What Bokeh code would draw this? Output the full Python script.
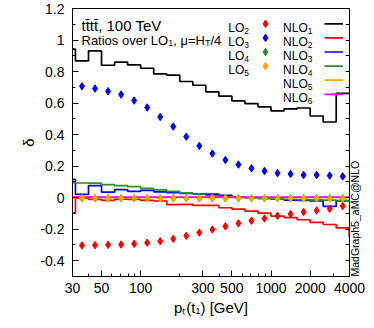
import math
from bokeh.plotting import figure
from bokeh.models import Range1d, FixedTicker, LinearAxis, Label
from bokeh.embed import file_html
from bokeh.resources import INLINE

# ---------------- data ----------------
# histogram bin edges in pT(t1) [GeV] (log-spaced, 0.1 decade; first/last bins partially shown)
bin_edges = [30, 31.6, 39.8, 50.1, 63.1, 79.4, 100, 125.9, 158.5, 199.5, 251.2, 316.2,
             398.1, 501.2, 631.0, 794.3, 1000, 1258.9, 1584.9, 1995.3, 2511.9, 3162.3,
             3981.1, 4000]

# NLO ratios (one value per bin, 23 bins)
nlo1 = [0.942, 0.868, 0.931, 0.840, 0.860, 0.842, 0.821, 0.785, 0.777, 0.737, 0.713,
        0.671, 0.644, 0.614, 0.597, 0.576, 0.550, 0.563, 0.569, 0.518, 0.480, 0.661, 0.661]
nlo2 = [-0.098, -0.003, -0.011, -0.017, -0.009, -0.011, -0.017, -0.021, -0.044, -0.042,
        -0.049, -0.049, -0.064, -0.072, -0.085, -0.098, -0.117, -0.127, -0.140, -0.157,
        -0.170, -0.191, -0.250]
nlo3 = [0.116, 0.021, 0.076, 0.035, 0.051, 0.040, 0.046, 0.037, 0.032, 0.027, 0.025,
        0.023, 0.015, 0.006, 0.001, -0.004, -0.010, -0.015, -0.017, -0.021, -0.055,
        -0.021, -0.021]
nlo4 = [0.095, 0.093, 0.092, 0.083, 0.076, 0.070, 0.059, 0.050, 0.040, 0.031, 0.022,
        0.012, 0.006, 0.002, -0.002, -0.005, -0.008, -0.010, -0.012, -0.014, -0.016,
        -0.017, -0.017]
nlo5 = [0.001] * 23
nlo6 = [0.004] * 23

# LO ratios (one value per full bin, 21 bins)
lo2 = [-0.303, -0.301, -0.299, -0.297, -0.293, -0.286, -0.276, -0.261, -0.242, -0.222,
       -0.202, -0.182, -0.163, -0.146, -0.132, -0.115, -0.104, -0.091, -0.081, -0.070,
       -0.053]
lo3 = [0.707, 0.692, 0.675, 0.654, 0.616, 0.572, 0.512, 0.451, 0.387, 0.328, 0.280,
       0.239, 0.210, 0.186, 0.169, 0.156, 0.150, 0.144, 0.144, 0.140, 0.135]
lo4 = [-0.004] * 21
lo5 = [-0.004] * 21

x_ticks = [30, 50, 100, 300, 500, 1000, 2000, 4000]
x_tick_labels = ["30", "50", "100", "300", "500", "1000", "2000", "4000"]
x_minor = [40, 60, 70, 80, 90, 200, 400, 600, 700, 800, 900, 3000]
y_ticks = [-0.4, -0.2, 0, 0.2, 0.4, 0.6, 0.8, 1, 1.2]
y_tick_labels = ["-0.4", "-0.2", "0", "0.2", "0.4", "0.6", "0.8", "1", "1.2"]
y_minor = [-0.5, -0.3, -0.1, 0.1, 0.3, 0.5, 0.7, 0.9, 1.1]

RED, BLUE, GREEN, ORANGE, MAGENTA = "#ff0000", "#0000ff", "#2e8b2e", "#ffa500", "#ff00ff"
lo_legend = [("LO", "2", RED), ("LO", "3", BLUE), ("LO", "4", GREEN), ("LO", "5", ORANGE)]
nlo_legend = [("NLO", "1", "black"), ("NLO", "2", RED), ("NLO", "3", BLUE),
              ("NLO", "4", GREEN), ("NLO", "5", ORANGE), ("NLO", "6", MAGENTA)]

FONT = "Liberation Sans"

# ---------------- figure ----------------
XMIN, XMAX, YMIN, YMAX = 30, 4000, -0.5, 1.2
FL, FR, FT, FB = 72, 349, 8, 276      # frame edges on the page
WID, HEI = 374, 328
p = figure(width=WID, height=HEI, x_axis_type="log",
           x_range=Range1d(XMIN, XMAX), y_range=Range1d(YMIN, YMAX),
           output_backend="svg", toolbar_location=None,
           min_border_left=FL, min_border_right=WID - FR, min_border_top=FT,
           min_border_bottom=HEI - FB)
p.grid.visible = False
p.outline_line_color = "black"
p.outline_line_width = 1
p.background_fill_color = "white"
p.border_fill_color = "white"


def X(px):
    return XMIN * (XMAX / XMIN) ** ((px - FL) / (FR - FL))


def Y(py):
    return YMIN + (FB - py) / (FB - FT) * (YMAX - YMIN)


# axes
p.xaxis.ticker = FixedTicker(ticks=x_ticks, minor_ticks=x_minor)
p.xaxis.major_label_overrides = {t: l for t, l in zip(x_ticks, x_tick_labels)}
p.yaxis.ticker = FixedTicker(ticks=y_ticks, minor_ticks=y_minor)
p.yaxis.major_label_overrides = {t: l for t, l in zip(y_ticks, y_tick_labels)}

# mirrored right axis: tick marks only (all as minor ticks, so no labels are drawn)
ra = LinearAxis(ticker=FixedTicker(ticks=[], minor_ticks=sorted(y_ticks + y_minor)))
p.add_layout(ra, "right")

for ax in [p.xaxis[0], p.yaxis[0], ra]:
    ax.axis_line_color = "black"
    ax.major_tick_line_color = "black"
    ax.minor_tick_line_color = "black"
    ax.major_tick_in = 6
    ax.major_tick_out = 0
    ax.minor_tick_in = 3
    ax.minor_tick_out = 0
    ax.major_label_text_font = FONT
    ax.major_label_text_color = "black"
    ax.axis_label_text_font = FONT
    ax.axis_label_text_font_style = "normal"
    ax.axis_label_text_color = "black"
ra.minor_tick_in = 4
ra.major_label_standoff = 0
for ax in [p.xaxis[0], p.yaxis[0]]:
    ax.major_label_text_font_size = "14px"
p.xaxis.major_label_standoff = 6
p.yaxis.major_label_standoff = 8

# axis titles
p.xaxis.axis_label = "p\u209c(t\u2081) [GeV]"
p.xaxis.axis_label_text_font_size = "15px"
p.xaxis.axis_label_standoff = 3
p.yaxis.axis_label = "\u03b4"
p.yaxis.axis_label_text_font_size = "15px"
p.yaxis.axis_label_standoff = 0
ra.axis_label = "MadGraph5_aMC@NLO"
ra.axis_label_text_font_size = "10.5px"
ra.axis_label_standoff = 5
try:
    ra.axis_label_orientation = math.pi / 2
except Exception:
    pass
try:
    ra.axis_label_align = "start"
except Exception:
    pass

# histogram lines
LW = 1.7
for vals, col in [(nlo1, "black"), (nlo2, RED), (nlo3, BLUE), (nlo4, GREEN),
                  (nlo5, ORANGE), (nlo6, MAGENTA)]:
    p.step(x=bin_edges, y=vals + [vals[-1]], mode="after", line_color=col, line_width=LW)

# LO markers at geometric bin centres of the full bins
centers = [math.sqrt(bin_edges[i] * bin_edges[i + 1]) for i in range(1, 22)]
for vals, col in [(lo2, RED), (lo3, BLUE), (lo4, GREEN), (lo5, ORANGE)]:
    p.scatter(x=centers, y=vals, marker="diamond", size=7.5, fill_color=col, line_color=col)

# ---------------- text helpers ----------------
W = {" ": 278, "(": 333, ")": 333, ",": 278, "-": 333, ".": 278, "/": 278, "=": 584,
     "@": 1015, "A": 667, "C": 722, "G": 778, "H": 722, "L": 556, "M": 833, "N": 722,
     "O": 778, "R": 722, "T": 611, "V": 667, "[": 278, "]": 278, "_": 556, "a": 556,
     "d": 556, "e": 556, "h": 556, "i": 222, "o": 556, "p": 556, "r": 333, "s": 500,
     "t": 278, "v": 500, "\u03bc": 576, "\u0304": 0}


def tw(s, size):
    return sum(W.get(c, 556) for c in s) / 1000.0 * size


def rich(x0, base, pieces, right=False):
    total = sum(tw(t, s) for t, s, d in pieces)
    x = x0 - total if right else x0
    for t, s, d in pieces:
        p.add_layout(Label(x=X(x), y=Y(base + d), text=t, text_font=FONT,
                           text_font_size=f"{s}px", text_align="left",
                           text_baseline="alphabetic", text_color="black"))
        x += tw(t, s)


# title lines
rich(81, 25, [("tt\u0304tt\u0304, 100 TeV", 15, 0)])
rich(81, 39.5, [("Ratios over LO", 13, 0), ("1", 9, 3), (", \u03bc=H", 13, 0),
                ("T", 9, 3), ("/4", 13, 0)])

# legend
ROW0, DROW = 27.3, 14.1
for k, (name, sub, col) in enumerate(lo_legend):
    base = ROW0 + k * DROW
    rich(248.5, base, [(name, 12, 0), (sub, 8.5, 3)], right=True)
    p.scatter(x=[X(265)], y=[Y(base - 4)], marker="diamond", size=7.5,
              fill_color=col, line_color=col)
for k, (name, sub, col) in enumerate(nlo_legend):
    base = ROW0 + k * DROW
    rich(312, base, [(name, 12, 0), (sub, 8.5, 3)], right=True)
    p.segment(x0=[X(324)], x1=[X(342.5)], y0=[Y(base - 4)], y1=[Y(base - 4)],
              line_color=col, line_width=LW)

open("out.html", "w").write(file_html(p, INLINE))
